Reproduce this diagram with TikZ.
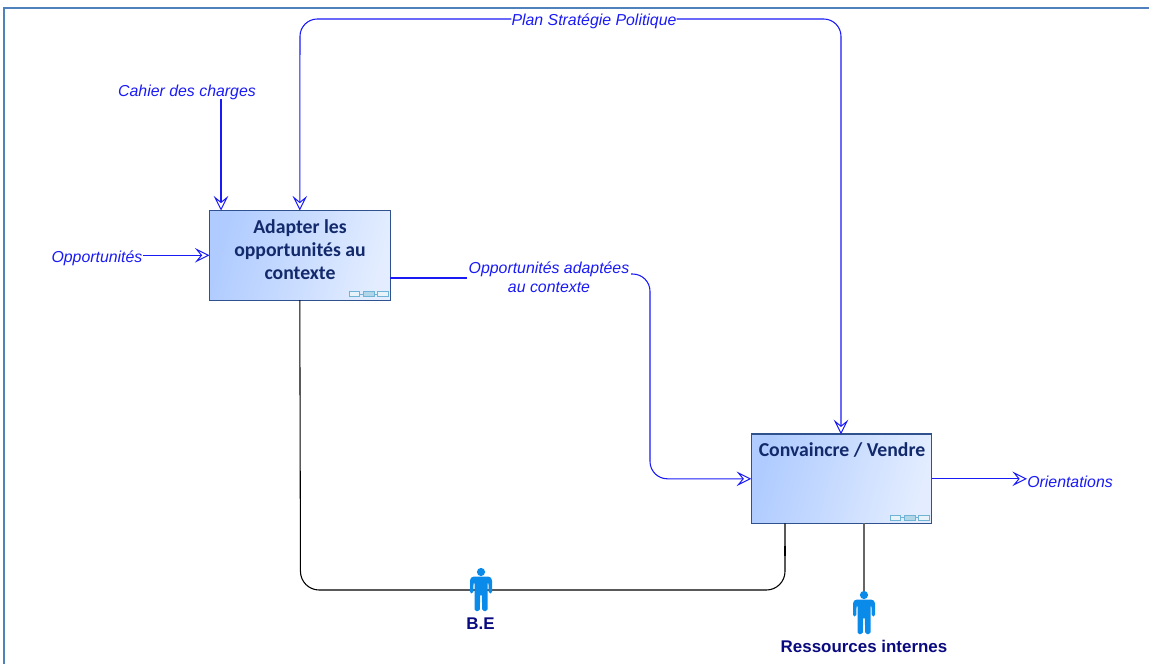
\documentclass[tikz,border=0pt]{standalone}
\usepackage{fontspec}
\setmainfont{Liberation Sans}
\newfontfamily\boxfont{Carlito}
\usetikzlibrary{arrows.meta,calc}
\definecolor{frameblue}{HTML}{4F81BD}
\definecolor{flowblue}{HTML}{1A1AF5}
\definecolor{boxedge}{HTML}{2F528F}
\definecolor{boxtext}{HTML}{12296B}
\definecolor{gradA}{HTML}{AFCBFF}
\definecolor{gradB}{HTML}{E3EDFF}
\definecolor{personblue}{HTML}{0A8BEA}
\definecolor{resname}{HTML}{0A0A80}
\definecolor{iconedge}{HTML}{6FB3D6}
\definecolor{iconmid}{HTML}{B0D6E8}
\tikzset{
  x=0.75pt,y=-0.75pt,
  activity/.style={draw=boxedge,line width=0.8pt,left color=gradA,right color=gradB,shading angle=75,
    minimum width=135.4pt,minimum height=67.2pt,inner sep=0pt,outer sep=0pt},
  acttext/.style={font=\boxfont\bfseries\fontsize{14.8}{17.3}\selectfont,text=boxtext,align=center,anchor=north,inner sep=0pt},
  flowlabel/.style={font=\itshape\fontsize{11.9}{14.2}\selectfont,text=flowblue,align=center,inner sep=0pt},
  flow/.style={draw=flowblue,line width=0.8pt,rounded corners=13pt},
  flowtip/.style={-{Stealth[open,length=11pt,width=11pt,inset=4.5pt,line width=0.75pt]}},
  mech/.style={draw=black,line width=0.8pt,rounded corners=14pt},
  mechgrey/.style={draw=black!60,line width=1pt},
  resource/.style={font=\bfseries\fontsize{12.7}{15}\selectfont,text=resname,inner sep=0pt},
  person/.pic={
    \fill[personblue] (0,0) circle (4.1);
    \fill[personblue,rounded corners=1.2pt]
      (-9,4.6) -- (9,4.6) -- (11,7) -- (11,21.5) -- (7.8,21.5) -- (7.4,10) -- (6.5,10)
      -- (6.5,39) -- (1.2,39) -- (0.8,22) -- (-0.8,22) -- (-1.2,39) -- (-6.5,39) -- (-6.5,10)
      -- (-7.4,10) -- (-7.8,21.5) -- (-11,21.5) -- (-11,7) -- cycle;
  },
  chain/.pic={
    \draw[iconedge,line width=0.4pt] (-13,0) -- (13,0);
    \draw[iconedge,line width=0.6pt,fill=white!70!iconmid] (-19.5,-2.5) rectangle (-9,2.5);
    \draw[iconedge,line width=0.6pt,fill=iconmid] (-5.5,-2.5) rectangle (5.5,2.5);
    \draw[iconedge,line width=0.6pt,fill=white!70!iconmid] (9,-2.5) rectangle (19.5,2.5);
  }
}
\begin{document}
\begin{tikzpicture}
\useasboundingbox (0,0) rectangle (1149,664);
% frame
\draw[frameblue,line width=2pt] (4,664) -- (4,8) -- (1149,8);

% activities
\node[activity] (A) at (299.8,255.3) {};
\node[activity] (B) at (841.5,478.8) {};
\node[acttext] (Atext) at (300,219) {Adapter les\\opportunités au\\contexte};
\node[acttext] (Btext) at (842,442.5) {Convaincre / Vendre};
\pic at (368.5,294) {chain};
\pic at (909.5,517.5) {chain};

% labels
\node[flowlabel] (cdc) at (187,92.5) {Cahier des charges};
\node[flowlabel] (opp) at (97,258.5) {Opportunités};
\node[flowlabel] (plan) at (594,21.5) {Plan Stratégie Politique};
\node[flowlabel] (oad) at (549,277) {Opportunités adaptées\\au contexte};
\node[flowlabel,anchor=west] (ori) at (1027,481.5) {Orientations};

% controls and inputs
\coordinate (cdcOut) at (221,99);
\coordinate (cdcIn) at (221,210.5);
\draw[flow,flowtip] (cdcOut) -- (cdcIn);
\coordinate (oppOut) at (143,255.3);
\draw[flow,flowtip] (oppOut) -- (A.west);
\draw[flow,flowtip] (plan.west |- 0,19) -- (300,19) -- (A.north);
\draw[flow,flowtip] (plan.east |- 0,19) -- (841,19) -- (841,434.3);
\coordinate (oadIn) at (467,278);
\coordinate (Aout) at (390,278);
\draw[flow] (Aout) -- (oadIn);
\coordinate (oadOut) at (631,274);
\draw[flow,flowtip] (oadOut) -- (650,274) -- (650,478.8) -- (B.west);
\draw[flow,flowtip,rounded corners=0pt] (B.east) -- (ori.west |- B.east);

% mechanisms
\coordinate (beHead) at (481,572);
\coordinate (riHead) at (864,595);
\coordinate (Bfoot) at (785,523.4);
\draw[mech] (A.south) -- (300.5,590) -- (785,590) -- (Bfoot);
\draw[black,line width=1.3pt] (785,546) -- (785,556);
\draw[mechgrey] (864,523.4) -- (riHead);
\pic at (beHead) {person};
\pic at (riHead) {person};
\node[resource] (be) at (480.5,624) {B.E};
\node[resource] (ri) at (864,646) {Ressources internes};
\end{tikzpicture}
\end{document}
